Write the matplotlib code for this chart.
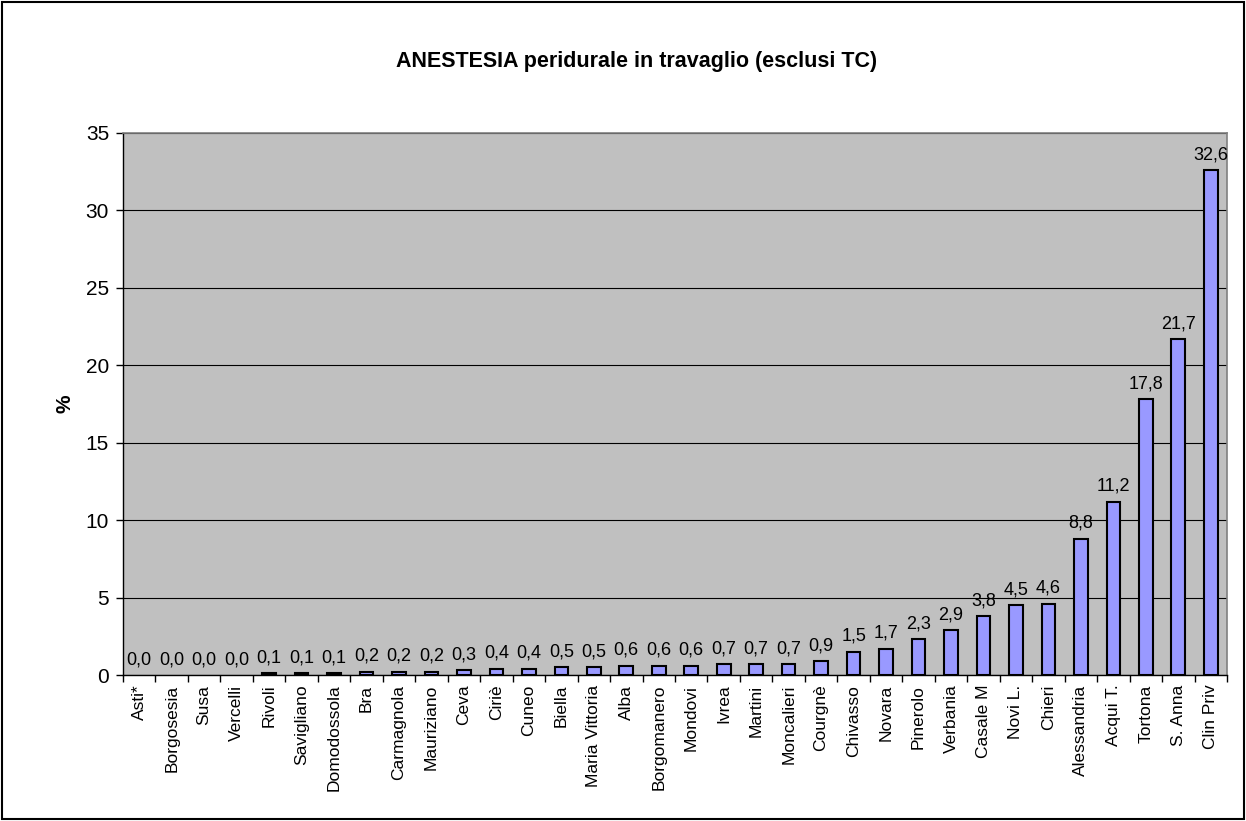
import matplotlib
matplotlib.use("Agg")
import matplotlib.pyplot as plt
from matplotlib.patches import Rectangle

categories = ["Asti*", "Borgosesia", "Susa", "Vercelli", "Rivoli", "Savigliano",
              "Domodossola", "Bra", "Carmagnola", "Mauriziano", "Ceva", "Ciriè",
              "Cuneo", "Biella", "Maria Vittoria", "Alba", "Borgomanero", "Mondovi",
              "Ivrea", "Martini", "Moncalieri", "Courgnè", "Chivasso", "Novara",
              "Pinerolo", "Verbania", "Casale M", "Novi L.", "Chieri", "Alessandria",
              "Acqui T.", "Tortona", "S. Anna", "Clin Priv"]
values = [0.0, 0.0, 0.0, 0.0, 0.1, 0.1, 0.1, 0.2, 0.2, 0.2, 0.3, 0.4, 0.4, 0.5,
          0.5, 0.6, 0.6, 0.6, 0.7, 0.7, 0.7, 0.9, 1.5, 1.7, 2.3, 2.9, 3.8, 4.5,
          4.6, 8.8, 11.2, 17.8, 21.7, 32.6]
yticks = [0, 5, 10, 15, 20, 25, 30, 35]

plt.rcParams['font.family'] = ['Liberation Sans', 'DejaVu Sans']

fig = plt.figure(figsize=(12.46, 8.21), dpi=100)
ax = fig.add_axes([123/1246, 1-675/821, (1227-123)/1246, (675-133)/821])
ax.set_facecolor('#C0C0C0')

x = list(range(len(categories)))
bars = ax.bar(x, values, width=0.42, color='#9999FF', edgecolor='black', linewidth=1.5, zorder=3)
for b, v in zip(bars, values):
    if v == 0:
        b.set_linewidth(0)
for xi, v in zip(x, values):
    ax.annotate(f"{v:.1f}".replace('.', ','), (xi, v), xytext=(0, 5),
                textcoords='offset points', ha='center', va='bottom', fontsize=13, zorder=4)

ax.set_xlim(-0.5, len(categories) - 0.5)
ax.set_ylim(0, 35)
ax.set_yticks(yticks)
ax.set_yticklabels([str(t) for t in yticks], fontsize=15)
ax.set_xticks([i - 0.5 for i in range(len(categories) + 1)], minor=False)
ax.set_xticklabels([])
ax.set_xticks(x, minor=True)
ax.set_xticklabels(categories, minor=True, rotation=90, fontsize=12.5)
ax.tick_params(axis='x', which='minor', length=0, pad=7)
ax.tick_params(axis='x', which='major', length=5, width=1, direction='out')
ax.tick_params(axis='y', length=5, width=1, direction='out', pad=5)
ax.yaxis.grid(True, color='black', linewidth=0.8, zorder=0)
ax.set_axisbelow(True)
for side in ['top', 'right']:
    ax.spines[side].set_color('#808080')
    ax.spines[side].set_linewidth(1.2)
for side in ['left', 'bottom']:
    ax.spines[side].set_color('black')
    ax.spines[side].set_linewidth(1.0)

ax.set_ylabel('%', fontsize=15, fontweight='bold', labelpad=8)
fig.text(637/1246, 1-62/821, 'ANESTESIA peridurale in travaglio (esclusi TC)',
         ha='center', va='center', fontsize=15.5, fontweight='bold')

fig.patches.append(Rectangle((0.002, 0.002), 0.996, 0.996, transform=fig.transFigure,
                             fill=False, edgecolor='black', linewidth=1.5))

fig.savefig('out.png', dpi=100)
